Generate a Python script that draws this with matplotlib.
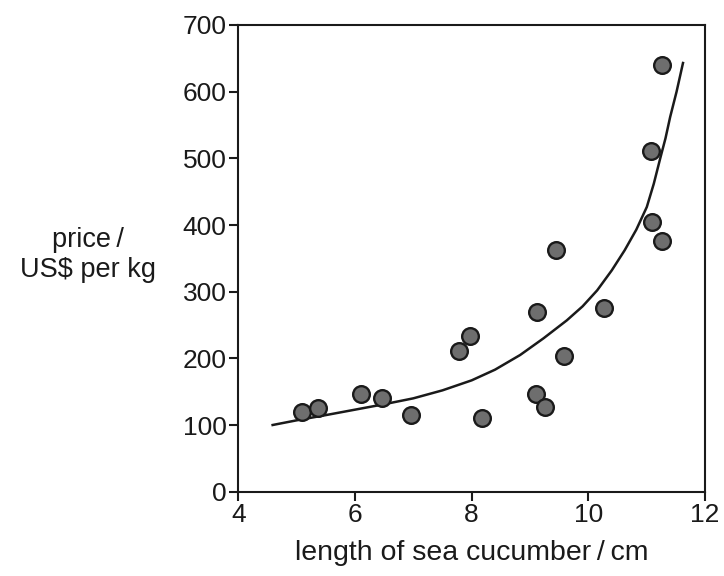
import matplotlib
matplotlib.use('Agg')
import matplotlib.pyplot as plt

# measured points: length (cm), price (US$ per kg)
length_cm = [5.09, 5.37, 6.10, 6.47, 6.96, 7.78, 7.97, 8.18, 9.12, 9.11,
             9.26, 9.44, 9.58, 10.26, 11.08, 11.09, 11.26, 11.26]
price_usd = [119, 126, 146, 141, 115, 211, 234, 110, 269, 146,
             127, 362, 203, 275, 511, 404, 376, 640]

# trend curve
curve_x = [4.59, 5.0, 5.51, 6.0, 6.49, 7.0, 7.50, 8.0, 8.40, 8.83, 9.23,
           9.63, 9.90, 10.15, 10.40, 10.62, 10.82, 11.0, 11.12, 11.23,
           11.32, 11.40, 11.51, 11.62]
curve_y = [100, 107, 115, 123, 131, 140, 152, 167, 183, 205, 230,
           257, 278, 302, 332, 362, 393, 427, 462, 500,
           530, 562, 600, 643]

plt.rcParams['font.family'] = ['Liberation Sans', 'DejaVu Sans']
ink = '#1a1a1a'

fig = plt.figure(figsize=(7.24, 5.76), dpi=100)
ax = fig.add_axes([0.329, 0.1464, 0.645, 0.8102])

ax.plot(curve_x, curve_y, color=ink, linewidth=1.8, zorder=2,
        solid_joinstyle='round')
ax.plot(length_cm, price_usd, linestyle='None', marker='o', markersize=12,
        markerfacecolor='#6e6e6e', markeredgecolor=ink,
        markeredgewidth=1.7, zorder=3)

ax.set_xlim(4, 12)
ax.set_ylim(0, 700)
ax.set_xticks([4, 6, 8, 10, 12])
ax.set_yticks(range(0, 701, 100))
for s in ax.spines.values():
    s.set_linewidth(1.5)
    s.set_color(ink)
ax.tick_params(direction='out', length=6.5, width=1.5, labelsize=19,
               colors=ink, pad=2)

ax.set_xlabel('length of sea cucumber\u2009/\u2009cm', fontsize=20.5,
              color=ink, labelpad=9)
fig.text(0.122, 0.557, 'price\u2009/\nUS$ per kg', ha='center', va='center',
         fontsize=19.5, color=ink, linespacing=1.2)

fig.savefig('out.png', dpi=100)
